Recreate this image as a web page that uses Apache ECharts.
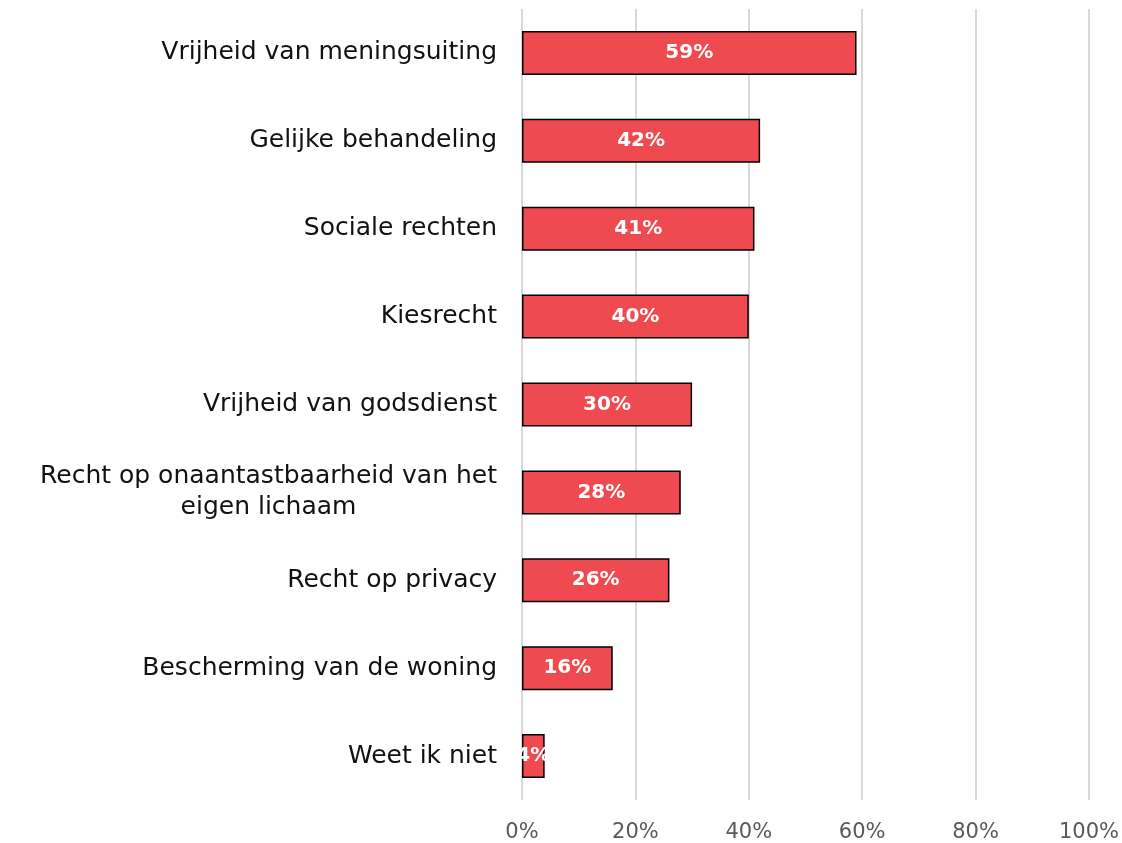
<!DOCTYPE html>
<html>
<head>
<meta charset="utf-8">
<script src="https://cdn.jsdelivr.net/npm/echarts@6/dist/echarts.min.js"></script>
<style>
  html, body { margin: 0; padding: 0; background: #fff; }
  #chart { width: 1122px; height: 843px; }
</style>
</head>
<body>
<div id="chart"></div>
<script>
// data, top to bottom as in the picture
const categories = [
    'Vrijheid van meningsuiting',
    'Gelijke behandeling',
    'Sociale rechten',
    'Kiesrecht',
    'Vrijheid van godsdienst',
    'Recht op onaantastbaarheid van het\neigen lichaam',
    'Recht op privacy',
    'Bescherming van de woning',
    'Weet ik niet'
];
const values = [59, 42, 41, 40, 30, 28, 26, 16, 4];
const xTicks = [0, 20, 40, 60, 80, 100];

const fontFamily = '"DejaVu Sans", sans-serif';
const catFontSize = 25;

// width of the longest line, so the wrapped label can be centred under it
const ctx = document.createElement('canvas').getContext('2d');
ctx.font = catFontSize + 'px ' + fontFamily;
const wrapWidth = Math.ceil(ctx.measureText('Recht op onaantastbaarheid van het').width);

const chart = echarts.init(document.getElementById('chart'));
const option = {
    animation: false,
    grid: {left: 522, right: 31, top: 9, bottom: 43},
    xAxis: {
        type: 'value',
        min: 0,
        max: 100,
        interval: 20,
        axisLine: {show: false},
        axisTick: {show: false},
        splitLine: {lineStyle: {color: '#d9d9d9', width: 2}},
        axisLabel: {
            formatter: v => xTicks.includes(v) ? v + '%' : '',
            color: '#595959',
            fontSize: 21,
            fontFamily: fontFamily,
            margin: 22
        }
    },
    yAxis: {
        type: 'category',
        inverse: true,
        data: categories,
        axisLine: {show: false},
        axisTick: {show: false},
        axisLabel: {
            color: '#111',
            fontSize: catFontSize,
            fontFamily: fontFamily,
            margin: 25,
            lineHeight: 31,
            formatter: function (v) {
                if (v.indexOf('\n') < 0) return v;
                return v.split('\n').map(s => '{c|' + s + '}').join('\n');
            },
            rich: {
                c: {
                    width: wrapWidth,
                    align: 'center',
                    color: '#111',
                    fontSize: catFontSize,
                    fontFamily: fontFamily,
                    lineHeight: 31
                }
            }
        }
    },
    series: [
        {
            type: 'bar',
            data: values,
            barWidth: 44,
            itemStyle: {color: '#f04a51', borderColor: '#000', borderWidth: 1.5},
            label: {
                show: true,
                position: 'inside',
                formatter: '{c}%',
                color: '#fff',
                fontWeight: 'bold',
                fontSize: 20,
                fontFamily: fontFamily
            }
        }
    ]
};
chart.setOption(option);
</script>
</body>
</html>
